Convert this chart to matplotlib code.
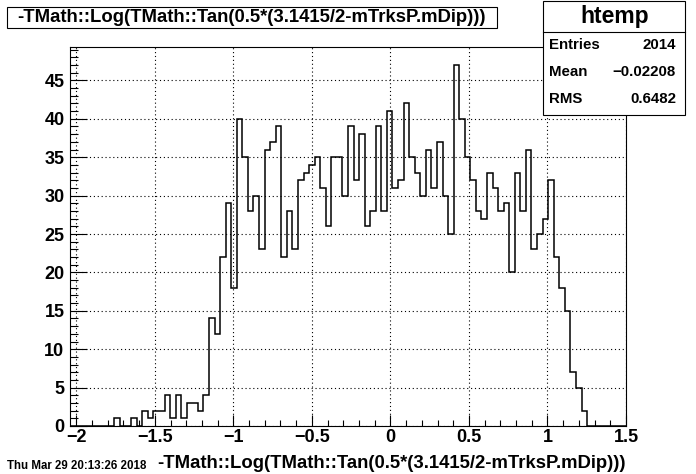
import numpy as np
import matplotlib
matplotlib.use("Agg")
import matplotlib.pyplot as plt
from matplotlib.patches import Rectangle
from matplotlib.ticker import MultipleLocator

plt.rcParams['font.family'] = ['Liberation Sans', 'DejaVu Sans']
plt.rcParams['font.weight'] = 'bold'

# ── data: 100 bins between x_lo and x_hi ──────────
x_lo, x_hi = -2.04, 1.5
counts = [0, 0, 0, 0, 0, 0, 0, 0,
          1, 0, 0, 1, 0, 2, 1, 2, 2, 4, 1, 4, 1, 3, 3, 2, 4, 14, 12,
          22, 29, 18, 40, 35, 28, 30, 23, 36, 37, 39, 22, 28, 23, 32, 33, 34, 35, 31, 26,
          35, 35, 30, 39, 32, 38, 26, 28, 39, 28, 41, 31, 32, 42, 35, 33, 30, 36, 31, 37, 30, 25,
          47, 40, 35, 32, 28, 27, 33, 31, 28, 29, 20, 33, 28, 36, 23, 25, 27, 32, 22, 18, 15, 7, 5, 2,
          0, 0, 0, 0, 0, 0, 0]
x_ticks = [-2, -1.5, -1, -0.5, 0, 0.5, 1, 1.5]
y_ticks = [0, 5, 10, 15, 20, 25, 30, 35, 40, 45]
title = "-TMath::Log(TMath::Tan(0.5*(3.1415/2-mTrksP.mDip)))"
stats_name = "htemp"
stats_labels = ["Entries", "Mean", "RMS"]
stats_values = ["2014", "\u22120.02208", "0.6482"]
date_text = "Thu Mar 29 20:13:26 2018"

W, H = 696, 474
edges = np.linspace(x_lo, x_hi, len(counts) + 1)
centers = 0.5 * (edges[:-1] + edges[1:])

fig = plt.figure(figsize=(W / 100, H / 100), dpi=100)

# frame: x 70..626, y 47..426 (pixels from top)
ax = fig.add_axes([70 / W, 1 - 426 / H, 556 / W, 379 / H])
ax.hist(centers, bins=edges, weights=counts, histtype="step",
        color="black", linewidth=1.1)
ax.set_xlim(x_lo, x_hi)
ax.set_ylim(0, max(counts) * 1.05)

ax.set_xticks(x_ticks)
ax.set_xticklabels([f"{t:g}".replace("-", "\u2212") for t in x_ticks])
ax.set_yticks(y_ticks)
ax.xaxis.set_minor_locator(MultipleLocator(0.1))
ax.yaxis.set_minor_locator(MultipleLocator(1))
ax.tick_params(axis="x", which="major", direction="in", length=8.2,
               width=0.8, labelsize=13, pad=2, top=False)
ax.tick_params(axis="x", which="minor", direction="in", length=4.1,
               width=0.8, top=False)
ax.tick_params(axis="y", which="major", direction="in", length=12,
               width=0.8, labelsize=13, pad=4, right=False)
ax.tick_params(axis="y", which="minor", direction="in", length=6,
               width=0.8, right=False)
ax.grid(True, which="major", color="black", linestyle=(0, (1, 2.5)),
        linewidth=0.8)
for sp in ax.spines.values():
    sp.set_linewidth(0.8)

ax.set_xlabel(title, fontsize=13.3, fontweight="bold", loc="right",
              labelpad=7)

# ── title box ──────────────────────────────────
def px_rect(x0, y0, x1, y1, **kw):
    return Rectangle((x0 / W, 1 - y1 / H), (x1 - x0) / W, (y1 - y0) / H,
                     transform=fig.transFigure, **kw)

fig.add_artist(px_rect(7, 7, 497, 28, facecolor="white",
                       edgecolor="black", linewidth=0.8, zorder=10))
fig.text(252 / W, 1 - 17.5 / H, title, ha="center", va="center",
         fontsize=13.3, fontweight="bold", zorder=11)

# ── stats box ──────────────────────────────────
fig.add_artist(px_rect(543, 1, 685, 115, facecolor="white",
                       edgecolor="black", linewidth=0.8, zorder=10))
fig.add_artist(plt.Line2D([543 / W, 685 / W], [1 - 32 / H, 1 - 32 / H],
                          transform=fig.transFigure, color="black",
                          linewidth=0.8, zorder=11))
fig.text(615 / W, 1 - 16 / H, stats_name, ha="center", va="center",
         fontsize=16.5, fontweight="bold", zorder=11)
for i, (lab, val) in enumerate(zip(stats_labels, stats_values)):
    yy = 1 - (45 + 27 * i) / H
    fig.text(549 / W, yy, lab, ha="left", va="center", fontsize=10.8,
             fontweight="bold", zorder=11)
    fig.text(676 / W, yy, val, ha="right", va="center", fontsize=10.8,
             fontweight="bold", zorder=11)

fig.text(7 / W, 1 - 466 / H, date_text, ha="left", va="center",
         fontsize=8.3, fontweight="bold")

fig.savefig("out.png", dpi=100)
